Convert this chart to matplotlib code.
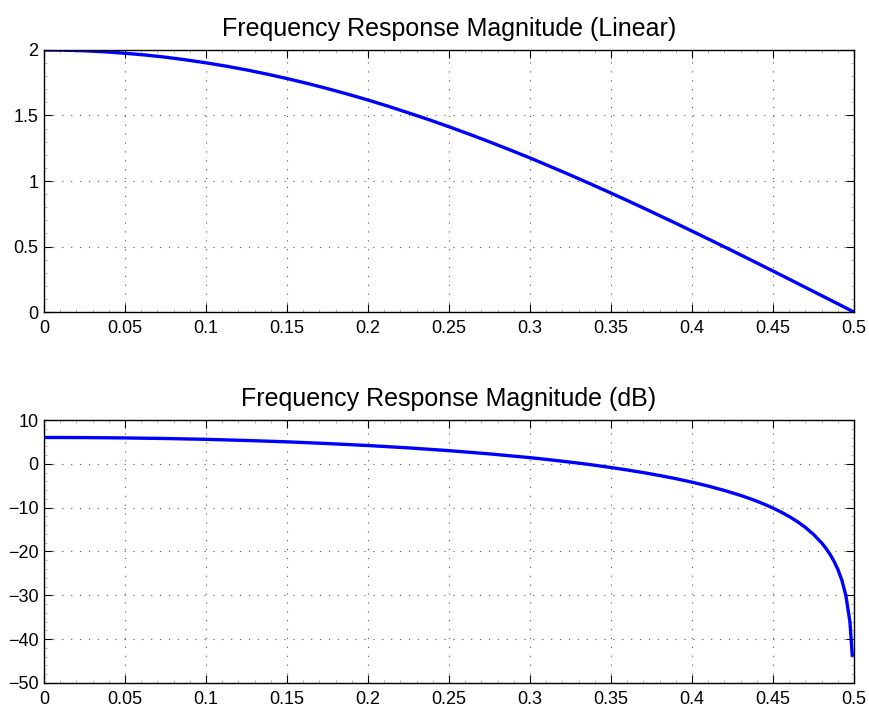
import matplotlib
matplotlib.use("Agg")
import matplotlib.pyplot as plt
from matplotlib.ticker import AutoMinorLocator

plt.rcParams['font.family'] = ['Liberation Sans', 'DejaVu Sans']

# Normalised frequency and linear magnitude
freq_lin = [0.0, 0.0125, 0.025, 0.0375, 0.05, 0.0625, 0.075, 0.0875, 0.1, 0.1125,
            0.125, 0.1375, 0.15, 0.1625, 0.175, 0.1875, 0.2, 0.2125, 0.225, 0.2375,
            0.25, 0.2625, 0.275, 0.2875, 0.3, 0.3125, 0.325, 0.3375, 0.35, 0.3625,
            0.375, 0.3875, 0.4, 0.4125, 0.425, 0.4375, 0.45, 0.4625, 0.475, 0.4875, 0.5]
mag_lin = [2.000, 1.9985, 1.994, 1.9861, 1.975, 1.9616, 1.945, 1.9249, 1.902, 1.8764,
           1.848, 1.8163, 1.782, 1.7450, 1.705, 1.6629, 1.618, 1.5706, 1.520, 1.4686,
           1.414, 1.3576, 1.299, 1.2382, 1.176, 1.1111, 1.045, 0.9772, 0.908, 0.8373,
           0.765, 0.6922, 0.618, 0.5429, 0.467, 0.3902, 0.313, 0.2351, 0.157, 0.0785, 0.0]

# Normalised frequency and magnitude in dB
freq_db = [0.0, 0.025, 0.05, 0.075, 0.1, 0.125, 0.15, 0.175, 0.2, 0.225, 0.25,
           0.275, 0.3, 0.31, 0.32, 0.33, 0.34, 0.35, 0.36, 0.37, 0.38, 0.39, 0.4, 0.41,
           0.42, 0.43, 0.435, 0.44, 0.445, 0.45, 0.455, 0.46, 0.465, 0.47, 0.475, 0.48,
           0.4825, 0.485, 0.4875, 0.49, 0.4925, 0.495, 0.4975, 0.499]
mag_db = [6.02, 5.99, 5.91, 5.78, 5.59, 5.33, 5.02, 4.63, 4.18, 3.64, 3.01,
          2.27, 1.41, 1.02, 0.60, 0.16, -0.32, -0.84, -1.40, -2.00, -2.66, -3.38, -4.18,
          -5.07, -6.07, -7.20, -7.84, -8.52, -9.27, -10.09, -11.00, -12.02, -13.17, -14.51,
          -16.09, -18.02, -19.18, -20.52, -22.10, -24.04, -26.54, -30.06, -36.08, -44.04]

x_ticks = [0, 0.05, 0.1, 0.15, 0.2, 0.25, 0.3, 0.35, 0.4, 0.45, 0.5]
x_labels = ['0', '0.05', '0.1', '0.15', '0.2', '0.25', '0.3', '0.35', '0.4', '0.45', '0.5']
lin_ticks = [0, 0.5, 1, 1.5, 2]
lin_labels = ['0', '0.5', '1', '1.5', '2']
db_ticks = [-50, -40, -30, -20, -10, 0, 10]
db_labels = ['\u221250', '\u221240', '\u221230', '\u221220', '\u221210', '0', '10']

fig = plt.figure(figsize=(8.7, 7.09), dpi=100)
ax1 = fig.add_axes([0.0506, 0.5599, 0.931, 0.3696])
ax2 = fig.add_axes([0.0506, 0.0367, 0.931, 0.3709])


def style(ax, yticks, ylabels, ylim, title):
    ax.set_xlim(0, 0.5)
    ax.set_ylim(*ylim)
    ax.set_xticks(x_ticks)
    ax.set_xticklabels(x_labels)
    ax.set_yticks(yticks)
    ax.set_yticklabels(ylabels)
    ax.xaxis.set_minor_locator(AutoMinorLocator(5))
    ax.yaxis.set_minor_locator(AutoMinorLocator(5))
    ax.tick_params(which='both', direction='in', top=True, right=True,
                   labelsize=13, labelcolor='black')
    ax.tick_params(which='major', length=6, width=0.8, color='black')
    ax.tick_params(axis='x', which='major', pad=6)
    ax.tick_params(axis='y', which='major', pad=4)
    ax.tick_params(which='minor', length=2, width=0.5, color='#999999')
    ax.grid(True, which='major', linestyle=(0, (1, 7)), color='#555555', linewidth=0.8)
    for sp in ax.spines.values():
        sp.set_linewidth(1.0)
        sp.set_color('black')
    ax.set_title(title, fontsize=18, pad=10)


ax1.plot(freq_lin, mag_lin, color='#0000ff', linewidth=2.4, solid_capstyle='butt')
style(ax1, lin_ticks, lin_labels, (0, 2), 'Frequency Response Magnitude (Linear)')

ax2.plot(freq_db, mag_db, color='#0000ff', linewidth=2.4, solid_capstyle='butt')
style(ax2, db_ticks, db_labels, (-50, 10), 'Frequency Response Magnitude (dB)')

fig.savefig('out.png', dpi=100, facecolor='white')
